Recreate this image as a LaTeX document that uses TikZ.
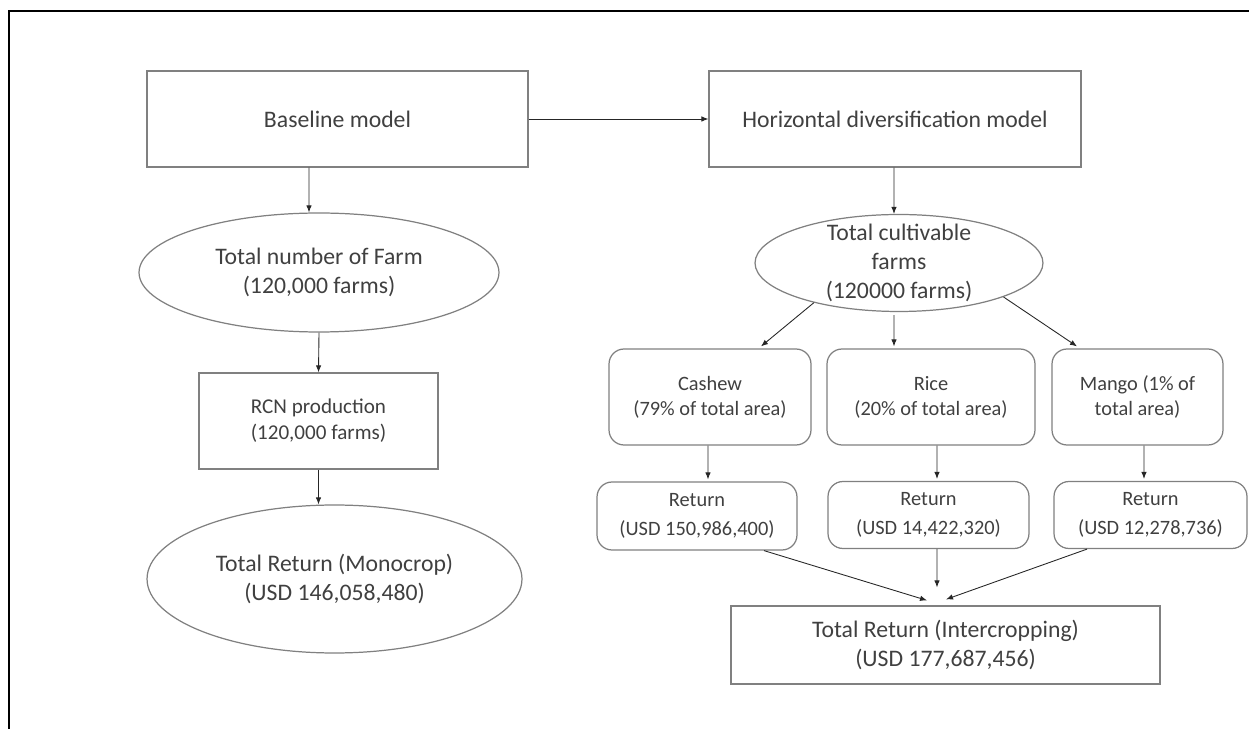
\documentclass[tikz,border=0pt]{standalone}
\usepackage{fontspec}
\setmainfont{Carlito}
\usepackage{tikz}
\usetikzlibrary{shapes.geometric,arrows.meta}

\tikzset{
  bigtxt/.style={font=\fontsize{13.5}{16.5}\selectfont},
  smalltxt/.style={font=\fontsize{11.6}{14.2}\selectfont},
  plainbox/.style={draw=black!50,line width=0.7pt,text=black!75,align=center,inner sep=0pt},
  oval/.style={plainbox,ellipse},
  softbox/.style={plainbox,rounded corners=0.3cm},
  arr/.style={-{Latex[length=0.14cm,width=0.11cm]},black!85,line width=0.5pt}
}

\begin{document}
\begin{tikzpicture}[x=0.02cm,y=-0.02cm]
      \useasboundingbox (0,0) rectangle (1249,729);
      \draw [line width=1.7pt] (1249,11) -- (9,11) -- (9,729);

      \node [plainbox,bigtxt,minimum width=7.62cm,minimum height=1.92cm] (base) at (337.5,119) {Baseline model};
      \node [plainbox,bigtxt,minimum width=7.44cm,minimum height=1.92cm] (hor) at (895,119) {Horizontal diversification model};

      \node [oval,bigtxt,minimum width=7.2cm,minimum height=2.38cm] (farm) at (319,272.5) {Total number of Farm\\(120,000 farms)};
      \node [plainbox,font=\fontsize{12}{14.8}\selectfont,minimum width=4.78cm,minimum height=1.92cm] (rcn) at (318.5,421) {RCN production\\(120,000 farms)};
      \node [oval,bigtxt,minimum width=7.5cm,minimum height=2.96cm] (mono) at (334.5,579) {Total Return (Monocrop)\\(USD 146,058,480)};

      \node [oval,minimum width=5.76cm,minimum height=1.94cm,
             label={[bigtxt,text=black!75,align=center]center:{Total cultivable\\farms\\(120000 farms)}}] (cult) at (899,263) {};

      \node [softbox,smalltxt,minimum width=4.04cm,minimum height=1.92cm] (cashew) at (710,397) {Cashew\\(79\% of total area)};
      \node [softbox,smalltxt,minimum width=4.16cm,minimum height=1.92cm] (rice) at (931,397) {Rice\\(20\% of total area)};
      \node [softbox,smalltxt,minimum width=3.42cm,minimum height=1.92cm] (mango) at (1137.5,397) {Mango (1\% of\\total area)};

      \node [softbox,font=\fontsize{11.6}{16.5}\selectfont,minimum width=4cm,minimum height=1.36cm] (ret1) at (697,516) {Return\\(USD 150,986,400)};
      \node [softbox,font=\fontsize{11.6}{16.5}\selectfont,minimum width=4.02cm,minimum height=1.34cm] (ret2) at (928.5,515) {Return\\(USD 14,422,320)};
      \node [softbox,font=\fontsize{11.6}{16.5}\selectfont,minimum width=3.86cm,minimum height=1.34cm] (ret3) at (1150.5,515) {Return\\(USD 12,278,736)};

      \node [plainbox,bigtxt,minimum width=8.58cm,minimum height=1.56cm] (inter) at (945.5,645) {Total Return (Intercropping)\\(USD 177,687,456)};

      \draw [arr] (base) -- (hor);
      \draw [arr] ([xshift=-0.57cm]base.south) -- ([xshift=-0.2cm]farm.north);
      \draw [arr] (farm.south) -- (rcn.north);
      \draw [arr] (rcn.south) -- (rcn.south |- mono.north);

      \draw [arr] ([xshift=-0.02cm]hor.south) -- ([xshift=-0.1cm]cult.north);
      \draw [arr] (cult.205) -- ([xshift=1.02cm,yshift=0.04cm]cashew.north);
      \draw [arr] ([xshift=-0.1cm,yshift=-0.06cm]cult.south) -- ([xshift=-0.74cm,yshift=0.04cm]rice.north);
      \draw [arr] (cult.342) -- ([xshift=-1.21cm,yshift=0.04cm]mango.north);

      \draw [arr] ([xshift=-0.04cm]cashew.south) -- ([xshift=0.22cm,yshift=0.04cm]ret1.north);
      \draw [arr] ([xshift=0.12cm]rice.south) -- ([xshift=0.17cm,yshift=0.04cm]ret2.north);
      \draw [arr] ([xshift=0.13cm]mango.south) -- ([xshift=-0.13cm,yshift=0.04cm]ret3.north);

      \draw [arr] ([xshift=1.34cm]ret1.south) -- ([xshift=-0.37cm,yshift=0.1cm]inter.north);
      \draw [arr] ([xshift=0.17cm]ret2.south) -- ([xshift=-0.17cm,yshift=0.36cm]inter.north);
      \draw [arr] ([xshift=-1.27cm]ret3.south) -- ([xshift=0.01cm,yshift=0.12cm]inter.north);
    \end{tikzpicture}
\end{document}
